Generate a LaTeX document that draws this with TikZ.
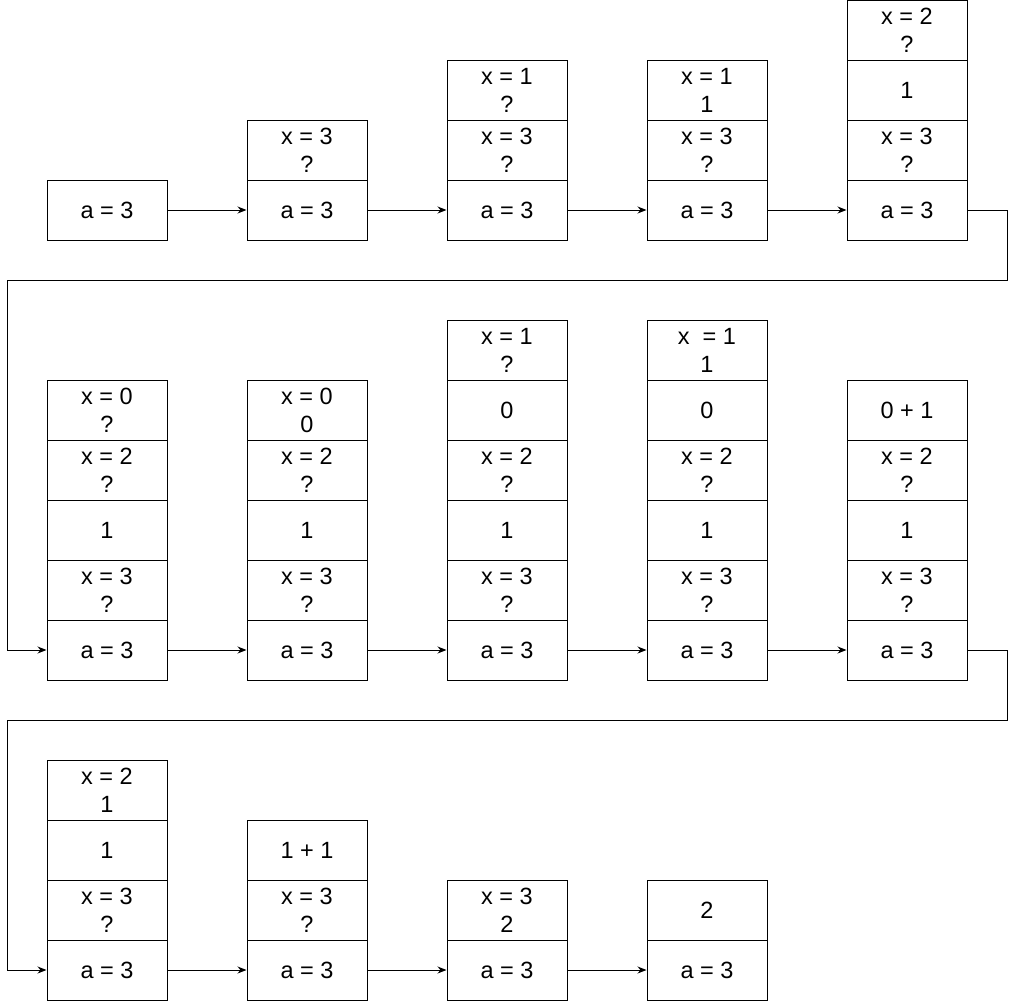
\documentclass[tikz,border=0pt]{standalone}
\usepackage{fontspec}
\setmainfont{Liberation Sans}
\usetikzlibrary{arrows.meta}
\tikzset{
  cell/.style={draw=black, line width=1pt, minimum width=120pt, minimum height=60pt,
    inner sep=0pt, align=center, font=\fontsize{23.5}{28}\selectfont, fill=white},
  arr/.style={line width=1pt, -{Stealth[length=9pt,width=7pt]}},
  link/.style={line width=1pt}
}
\begin{document}
\begin{tikzpicture}[x=1pt,y=-1pt]
\useasboundingbox (0,0) rectangle (1017,1001);
% ---------- row 1 ----------
\node[cell] (r1c1a) at (107,210) {a = 3};
\node[cell] (r1c2a) at (307,210) {a = 3};
\node[cell] (r1c2b) at (307,150) {x = 3\\?};
\node[cell] (r1c3a) at (507,210) {a = 3};
\node[cell] (r1c3b) at (507,150) {x = 3\\?};
\node[cell] (r1c3c) at (507,90) {x = 1\\?};
\node[cell] (r1c4a) at (707,210) {a = 3};
\node[cell] (r1c4b) at (707,150) {x = 3\\?};
\node[cell] (r1c4c) at (707,90) {x = 1\\1};
\node[cell] (r1c5a) at (907,210) {a = 3};
\node[cell] (r1c5b) at (907,150) {x = 3\\?};
\node[cell] (r1c5c) at (907,90) {1};
\node[cell] (r1c5d) at (907,30) {x = 2\\?};
% ---------- row 2 ----------
\node[cell] (r2c1a) at (107,650) {a = 3};
\node[cell] (r2c1b) at (107,590) {x = 3\\?};
\node[cell] (r2c1c) at (107,530) {1};
\node[cell] (r2c1d) at (107,470) {x = 2\\?};
\node[cell] (r2c1e) at (107,410) {x = 0\\?};
\node[cell] (r2c2a) at (307,650) {a = 3};
\node[cell] (r2c2b) at (307,590) {x = 3\\?};
\node[cell] (r2c2c) at (307,530) {1};
\node[cell] (r2c2d) at (307,470) {x = 2\\?};
\node[cell] (r2c2e) at (307,410) {x = 0\\0};
\node[cell] (r2c3a) at (507,650) {a = 3};
\node[cell] (r2c3b) at (507,590) {x = 3\\?};
\node[cell] (r2c3c) at (507,530) {1};
\node[cell] (r2c3d) at (507,470) {x = 2\\?};
\node[cell] (r2c3e) at (507,410) {0};
\node[cell] (r2c3f) at (507,350) {x = 1\\?};
\node[cell] (r2c4a) at (707,650) {a = 3};
\node[cell] (r2c4b) at (707,590) {x = 3\\?};
\node[cell] (r2c4c) at (707,530) {1};
\node[cell] (r2c4d) at (707,470) {x = 2\\?};
\node[cell] (r2c4e) at (707,410) {0};
\node[cell] (r2c4f) at (707,350) {x\ \ = 1\\1};
\node[cell] (r2c5a) at (907,650) {a = 3};
\node[cell] (r2c5b) at (907,590) {x = 3\\?};
\node[cell] (r2c5c) at (907,530) {1};
\node[cell] (r2c5d) at (907,470) {x = 2\\?};
\node[cell] (r2c5e) at (907,410) {0 + 1};
% ---------- row 3 ----------
\node[cell] (r3c1a) at (107,970) {a = 3};
\node[cell] (r3c1b) at (107,910) {x = 3\\?};
\node[cell] (r3c1c) at (107,850) {1};
\node[cell] (r3c1d) at (107,790) {x = 2\\1};
\node[cell] (r3c2a) at (307,970) {a = 3};
\node[cell] (r3c2b) at (307,910) {x = 3\\?};
\node[cell] (r3c2c) at (307,850) {1 + 1};
\node[cell] (r3c3a) at (507,970) {a = 3};
\node[cell] (r3c3b) at (507,910) {x = 3\\2};
\node[cell] (r3c4a) at (707,970) {a = 3};
\node[cell] (r3c4b) at (707,910) {2};
% ---------- connectors ----------
\draw[arr] (r1c1a) -- (r1c2a);
\draw[arr] (r1c2a) -- (r1c3a);
\draw[arr] (r1c3a) -- (r1c4a);
\draw[arr] (r1c4a) -- (r1c5a);
\coordinate (t1) at (1007,280);
\coordinate (t2) at (7,280);
\draw[arr] (r1c5a.east) -| (t1) -- (t2) |- (r2c1a.west);
\draw[arr] (r2c1a) -- (r2c2a);
\draw[arr] (r2c2a) -- (r2c3a);
\draw[arr] (r2c3a) -- (r2c4a);
\draw[arr] (r2c4a) -- (r2c5a);
\coordinate (u1) at (1007,720);
\coordinate (u2) at (7,720);
\draw[arr] (r2c5a.east) -| (u1) -- (u2) |- (r3c1a.west);
\draw[arr] (r3c1a) -- (r3c2a);
\draw[arr] (r3c2a) -- (r3c3a);
\draw[arr] (r3c3a) -- (r3c4a);
\end{tikzpicture}
\end{document}
